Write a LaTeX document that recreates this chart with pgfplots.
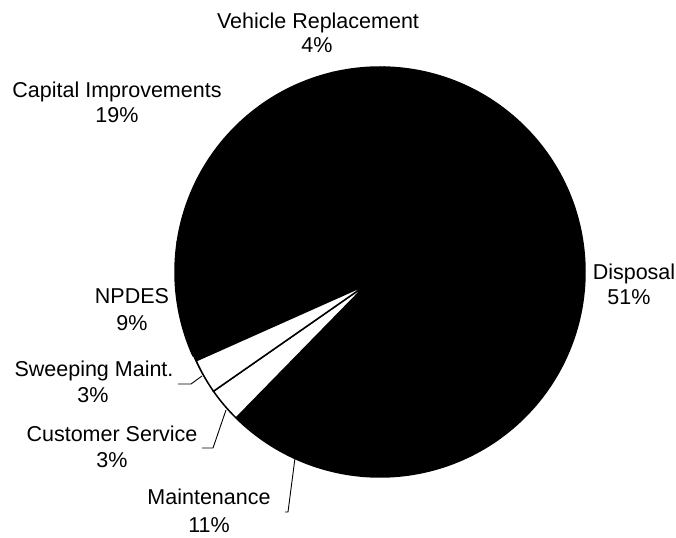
\documentclass[border=0pt]{standalone}
\usepackage{pgfplots}
\pgfplotsset{compat=1.18}
\usepackage{pgfplotstable}
\usepackage{fontspec}
\setmainfont{Liberation Sans}

% slices in clockwise order, starting angle given below
\pgfplotstableread{
name value fillc explode
Vehicle 4 black 0
Disposal 51 black 0
Maintenance 11 black 0
Customer 3 white 19
Sweeping 3 white 19
NPDES 9 black 0
Capital 19 black 0
}\piedata

\newcommand\piecx{380}
\newcommand\piecy{266}
\newcommand\pieR{205}
\newcommand\piestart{103.25}
\newcommand\explodedir{223}

\begin{document}
\begin{tikzpicture}[lbl/.style={anchor=base,inner sep=0pt,font=\fontsize{21.5bp}{25bp}\selectfont}]
\begin{axis}[x=1bp,y=1bp,xmin=0,xmax=676,ymin=0,ymax=538,hide axis,clip=false]
\path (rel axis cs:0,0) rectangle (rel axis cs:1,1);
\pgfplotsextra{%
  \fill[black] (axis cs:\piecx,\piecy) circle[radius=\pieR bp];
  \xdef\curang{\piestart}%
  \foreach \i in {0,...,6}{%
    \pgfplotstablegetelem{\i}{value}\of\piedata\let\v\pgfplotsretval
    \pgfplotstablegetelem{\i}{fillc}\of\piedata\let\fc\pgfplotsretval
    \pgfplotstablegetelem{\i}{explode}\of\piedata\let\ex\pgfplotsretval
    \pgfmathsetmacro\endang{\curang-3.6*\v}%
    \pgfmathsetmacro\rad{\pieR-\ex}%
    \pgfmathsetmacro\apx{\piecx+\ex*cos(\explodedir)}%
    \pgfmathsetmacro\apy{\piecy+\ex*sin(\explodedir)}%
    \fill[fill=\fc,draw=black,line width=1.5bp,line join=miter]
      (axis cs:\apx,\apy) -- ++(\curang:\rad bp)
      arc[start angle=\curang,end angle=\endang,radius=\rad bp] -- cycle;
    \xdef\curang{\endang}%
  }%
}
\node[lbl] at (axis cs:318,509) {Vehicle Replacement};
\node[lbl] at (axis cs:317,485) {4\%};
\node[lbl] at (axis cs:117,440) {Capital Improvements};
\node[lbl] at (axis cs:117,415) {19\%};
\node[lbl] at (axis cs:634,258) {Disposal};
\node[lbl] at (axis cs:629,233) {51\%};
\node[lbl] at (axis cs:132,234) {NPDES};
\node[lbl] at (axis cs:132,207) {9\%};
\node[lbl] at (axis cs:94,161) {Sweeping Maint.};
\node[lbl] at (axis cs:93,135) {3\%};
\node[lbl] at (axis cs:112,96) {Customer Service};
\node[lbl] at (axis cs:112,70) {3\%};
\node[lbl] at (axis cs:209,33) {Maintenance};
\node[lbl] at (axis cs:209,5) {11\%};
\draw[line width=0.9bp] (axis cs:178,154) -- (axis cs:191,154) -- (axis cs:202,162);
\draw[line width=0.9bp] (axis cs:202,90) -- (axis cs:213,90) -- (axis cs:226,128);
\draw[line width=0.9bp] (axis cs:285,26) -- (axis cs:288,26) -- (axis cs:295,80);
\end{axis}
\end{tikzpicture}
\end{document}
